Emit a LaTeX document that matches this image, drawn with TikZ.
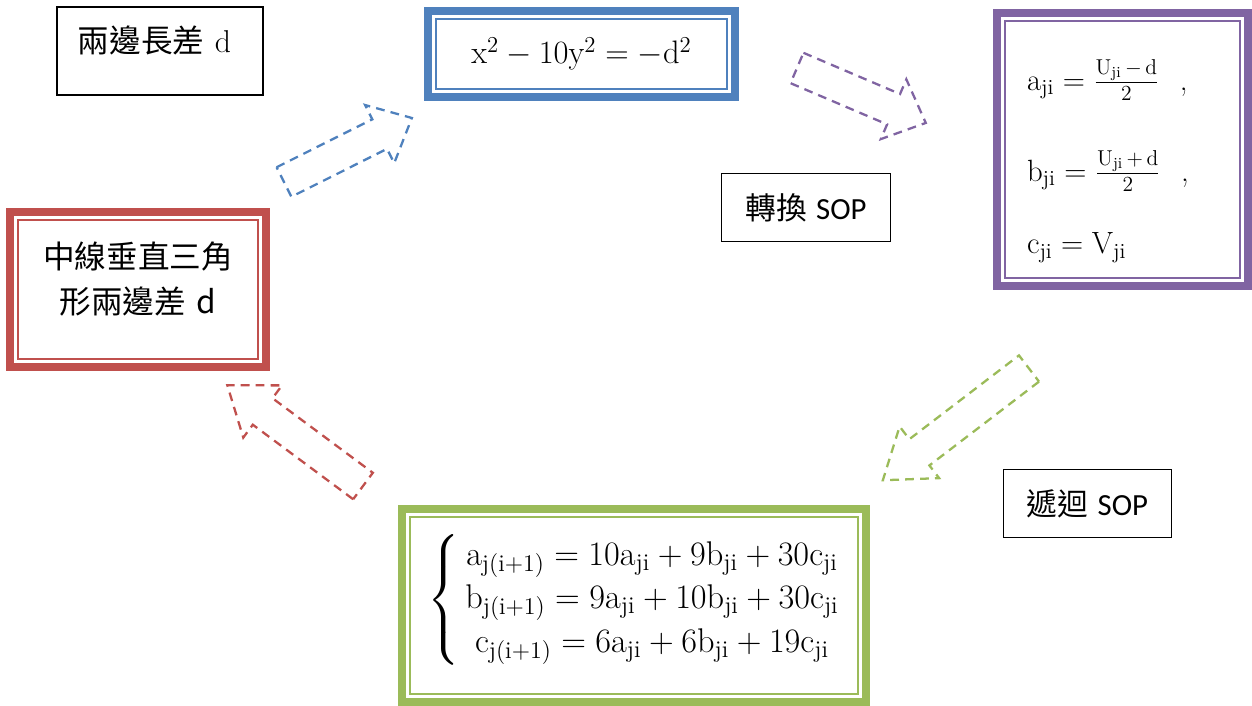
\RequirePackage{fix-cm}
\documentclass[tikz,border=0pt]{standalone}
\usepackage{amsmath}
\usepackage{fontspec}
\newfontfamily\cjk{Noto Sans CJK TC}
\newfontfamily\calib{Carlito}
\definecolor{accred}{HTML}{C0504D}
\definecolor{accblue}{HTML}{4F81BD}
\definecolor{accpurple}{HTML}{8064A2}
\definecolor{accgreen}{HTML}{9BBB59}
\newcommand\subji{_{\mathrm{ji}}}
\newcommand\subjn{_{\mathrm{j(i+1)}}}

\begin{document}
\begin{tikzpicture}[x=0.02cm, y=-0.02cm,
  plain/.style={rectangle,draw=black,line width=0.9pt,fill=white,inner sep=0pt,font=\fontsize{17.5}{26}\selectfont},
  dbox/.style={rectangle,draw=#1,line width=4.5pt,fill=white,inner sep=0pt,
    path picture={\draw[#1,line width=1.3pt]
      ([shift={(4.5pt,-4.5pt)}]path picture bounding box.north west) rectangle
      ([shift={(-4.5pt,4.5pt)}]path picture bounding box.south east);}},
  arrdash/.style={draw=#1,line width=1.3pt,dash pattern=on 5pt off 3.5pt},
  pics/hollowarr/.style 2 args={code={
    \draw[pic actions] (0,-16.5) -- (#1-#2,-16.5) -- (#1-#2,-32.5) -- (#1,0)
      -- (#1-#2,32.5) -- (#1-#2,16.5) -- (0,16.5) -- cycle;}}
]
  \useasboundingbox (0,0) rectangle (1252,706);

  \node[plain,text width=3.29cm,inner xsep=0.42cm,align=left,text height=0.915cm,text depth=0.855cm,font=\fontsize{18}{26}\selectfont](side) at (160,51) {{\cjk 兩邊長差} d};
  \node[dbox=accred,text width=5.12cm,align=center,text height=1.12cm,text depth=1.98cm,font=\cjk\fontsize{18}{26}\selectfont](tri) at (138,289.5) {中線垂直三角\\形兩邊差 d};
  \node[dbox=accblue,minimum width=6.14cm,minimum height=1.72cm,font=\fontsize{18.5}{24}\selectfont](pell) at (581.5,54)
    {$\mathrm{x}^2-10\mathrm{y}^2=-\mathrm{d}^2$};
  \node[dbox=accpurple,text width=3.82cm,align=left,inner xsep=0.6cm,text height=1.54cm,text depth=3.92cm,font=\fontsize{17.5}{26}\selectfont](conv) at (1122.5,149.5)
    {$\mathrm{a}\subji=\tfrac{\mathrm{U}\subji\,-\,\mathrm{d}}{2}$\ \ ,\\[26pt]
     $\mathrm{b}\subji=\tfrac{\mathrm{U}\subji\,+\,\mathrm{d}}{2}$\ \ ,\\[15pt]
     $\mathrm{c}\subji=\mathrm{V}\subji$};
  \node[dbox=accgreen,minimum width=9.28cm,text height=1.99cm,text depth=1.87cm,font=\fontsize{19.5}{24.7}\selectfont](rec) at (634,605.5)
    {$\left\{\begin{array}{@{\,}c@{}}
      \mathrm{a}\subjn=10\mathrm{a}\subji+9\mathrm{b}\subji+30\mathrm{c}\subji\\
      \mathrm{b}\subjn=9\mathrm{a}\subji+10\mathrm{b}\subji+30\mathrm{c}\subji\\
      \mathrm{c}\subjn=6\mathrm{a}\subji+6\mathrm{b}\subji+19\mathrm{c}\subji
    \end{array}\right.$};
  \node[plain,minimum width=3.38cm,minimum height=1.36cm](sop1) at (806,207.5) {{\cjk 轉換} {\calib SOP}};
  \node[plain,minimum width=3.36cm,minimum height=1.36cm](sop2) at (1087.5,503.5) {{\cjk 遞迴} {\calib SOP}};

  % hollow dashed arrows round the cycle
  \pic (bluearr) [arrdash=accblue,rotate=26.6] at (284,182) {hollowarr={143}{36}};
  \pic (purparr) [arrdash=accpurple,rotate=-23.1] at (797,68) {hollowarr={140}{35}};
  \pic (greenarr) [arrdash=accgreen,rotate=217.4] at (1029,368.5) {hollowarr={184}{46}};
  \pic (redarr) [arrdash=accred,rotate=143.4] at (363,486) {hollowarr={169}{44}};
\end{tikzpicture}
\end{document}
